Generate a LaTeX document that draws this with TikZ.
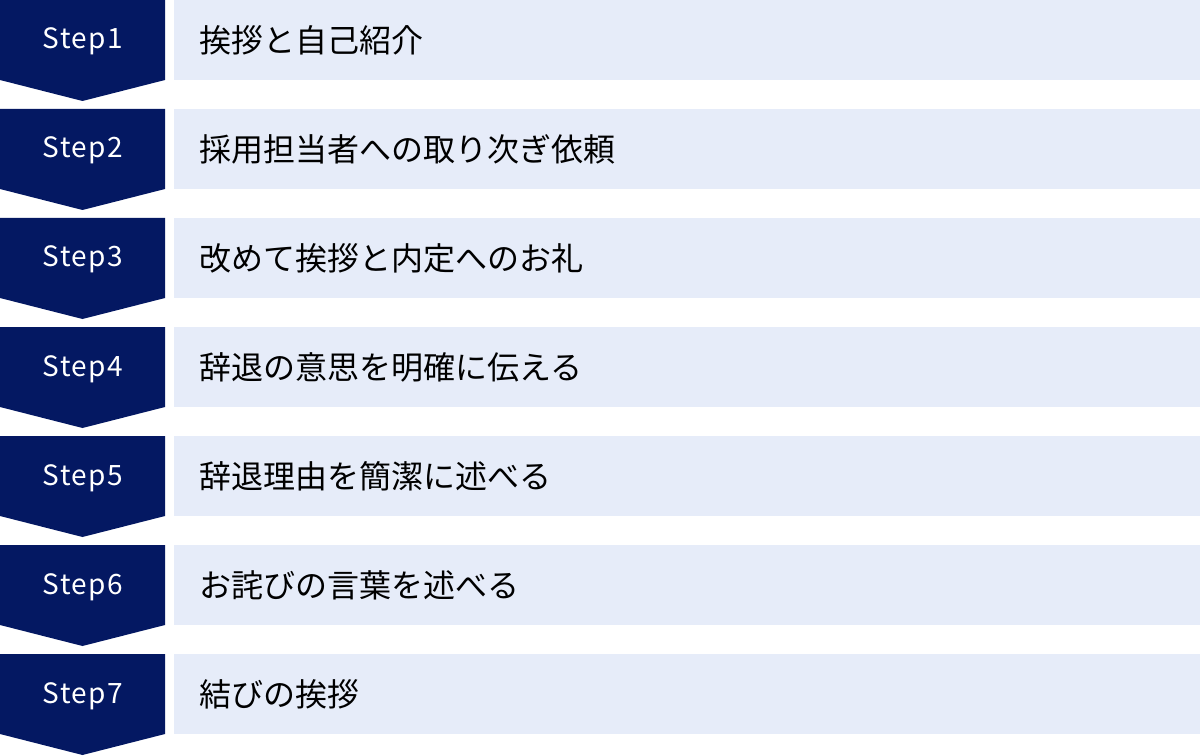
\documentclass[tikz,border=0pt]{standalone}
\usepackage{fontspec}
\setmainfont{Noto Sans CJK JP}
\newfontfamily\steplabelfont[LetterSpace=5]{Noto Sans CJK JP}
\definecolor{stepnavy}{HTML}{041862}
\definecolor{itembg}{HTML}{E6ECF9}
\begin{document}
\begin{tikzpicture}[line join=round, x=0.75pt, y=-0.75pt]
	\tikzset{step label/.style={anchor=base, text=white, font=\steplabelfont\fontsize{21pt}{23pt}\selectfont, inner sep=0pt},
		item text/.style={anchor=west, text=black, font=\fontsize{24pt}{28pt}\selectfont, inner sep=0pt}}
	\useasboundingbox (0,0) rectangle (1200,756);
	\foreach \i/\txt in {1/挨拶と自己紹介,2/採用担当者への取り次ぎ依頼,3/改めて挨拶と内定へのお礼,4/辞退の意思を明確に伝える,5/辞退理由を簡潔に述べる,6/お詫びの言葉を述べる,7/結びの挨拶}{
		\pgfmathsetmacro\rowtop{(\i-1)*109}
		\fill[stepnavy] (0,\rowtop) -- ++(165,0) -- ++(0,80) -- ++(-82.5,21) -- ++(-82.5,-21) -- cycle;
		\fill[itembg] (174,\rowtop) rectangle ++(1026,80);
		\node[step label] (s\i) at (83,\rowtop+49) {Step\i};
		\node[item text] (t\i) at (199,\rowtop+40) {\txt};
	}
\end{tikzpicture}
\end{document}
